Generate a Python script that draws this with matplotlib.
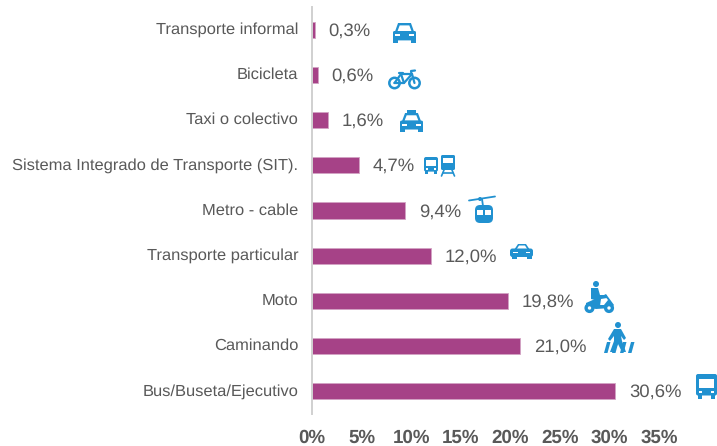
import matplotlib
matplotlib.use("Agg")
import matplotlib.pyplot as plt
from matplotlib.patches import Circle, FancyBboxPatch, Polygon, Rectangle

categories = ["Transporte informal", "Bicicleta", "Taxi o colectivo",
              "Sistema Integrado de Transporte (SIT).", "Metro - cable",
              "Transporte particular", "Moto", "Caminando", "Bus/Buseta/Ejecutivo"]
values = [0.3, 0.6, 1.6, 4.7, 9.4, 12.0, 19.8, 21.0, 30.6]
xticks = [0, 5, 10, 15, 20, 25, 30, 35]

W, H = 717, 446
BLUE = "#2191d0"
GREY = "#595959"
plt.rcParams["font.family"] = ["Liberation Sans", "DejaVu Sans"]
plt.rcParams["text.hinting"] = "none"

fig = plt.figure(figsize=(W / 100, H / 100), dpi=100)
ax = fig.add_axes([312 / W, 1 - 414 / H, 347 / W, 407 / H])
y = list(range(len(categories)))
ax.barh(y, values, height=0.355, color="#a64287", edgecolor="#d3a3c4", linewidth=0.6)
ax.set_xlim(0, 35)
ax.set_ylim(len(categories) - 0.5, -0.5)
ax.set_yticks(y)
ax.set_yticklabels(categories, fontsize=11.85, color=GREY, va="center")
for lab in ax.get_yticklabels():
    lab.set_y(lab.get_position()[1])
ax.set_xticks(xticks)
ax.set_xticklabels([f"{t}%" for t in xticks], fontsize=13.5, fontweight="bold", color=GREY)
ax.tick_params(axis="y", length=0, pad=10)
ax.tick_params(axis="x", length=0, pad=10.5)
for s in ["top", "right", "bottom"]:
    ax.spines[s].set_visible(False)
ax.spines["left"].set_color("#d0d0d0")
ax.spines["left"].set_linewidth(1.4)
for yi, v in zip(y, values):
    ax.annotate(f"{v:.1f}%".replace(".", ","), (v, yi), xytext=(9.8, -0.8),
                textcoords="offset points", va="center", fontsize=13.3, color=GREY)

# overlay in pixel coordinates for the little pictograms
ov = fig.add_axes([0, 0, 1, 1])
ov.set_xlim(0, W)
ov.set_ylim(H, 0)
ov.axis("off")


def box(x0, y0, x1, y1, r=1.5, color=BLUE):
    ov.add_patch(FancyBboxPatch((x0 + r, y0 + r), x1 - x0 - 2 * r, y1 - y0 - 2 * r,
                                boxstyle=f"round,pad={r}", fc=color, ec="none"))


def poly(pts, color=BLUE):
    ov.add_patch(Polygon(pts, closed=True, fc=color, ec="none"))


def wheel(x, yc, r, lw=2, fc="white"):
    ov.add_patch(Circle((x, yc), r, fc=fc, ec=BLUE, lw=lw))


def line(xs, ys, lw=1.6):
    ov.plot(xs, ys, color=BLUE, lw=lw, solid_capstyle="round")


def rect(x, y0, w, h, color=BLUE):
    ov.add_patch(Rectangle((x, y0), w, h, fc=color, ec="none"))


def car_front(x0, y0, x1, y1):
    w, h = x1 - x0, y1 - y0
    poly([(x0 + .08 * w, y0 + .45 * h), (x0 + .22 * w, y0), (x1 - .22 * w, y0), (x1 - .08 * w, y0 + .45 * h)])
    poly([(x0 + .2 * w, y0 + .4 * h), (x0 + .29 * w, y0 + .12 * h), (x1 - .29 * w, y0 + .12 * h), (x1 - .2 * w, y0 + .4 * h)], "white")
    box(x0, y0 + .4 * h, x1, y0 + .87 * h, 1.5)
    rect(x0 + .02 * w, y0 + .8 * h, .19 * w, .2 * h)
    rect(x1 - .21 * w, y0 + .8 * h, .19 * w, .2 * h)
    rect(x0 + .1 * w, y0 + .56 * h, .2 * w, .1 * h, "white")
    rect(x1 - .3 * w, y0 + .56 * h, .2 * w, .1 * h, "white")


def bus(x0, y0, x1, y1):
    w, h = x1 - x0, y1 - y0
    box(x0, y0, x1, y0 + .86 * h, 2)
    rect(x0 + .12 * w, y0 + .2 * h, .76 * w, .34 * h, "white")
    rect(x0 + .08 * w, y0 + .8 * h, .22 * w, .2 * h)
    rect(x1 - .3 * w, y0 + .8 * h, .22 * w, .2 * h)
    rect(x0 + .12 * w, y0 + .66 * h, .18 * w, .08 * h, "white")
    rect(x1 - .3 * w, y0 + .66 * h, .18 * w, .08 * h, "white")


# transporte informal
car_front(393, 23, 416, 43)
# bicicleta
wheel(394.5, 83, 5.2, 1.8)
wheel(414.5, 83, 5.2, 1.8)
line([394.5, 401, 412, 414.5], [83, 74, 74, 83])
line([394.5, 404, 412], [83, 83, 74])
line([401, 404], [74, 83])
line([399, 403], [72.5, 72.5])
line([411.5, 411, 415], [74, 71, 70.5])
# taxi
car_front(400, 113, 423, 132)
rect(407, 110, 9, 3.5)
# SIT: bus + tren
bus(424, 157, 438, 174)
box(441, 155, 455, 170, 1.5)
rect(443, 158, 10, 5, "white")
line([444, 441.5], [170, 176], 1.2)
line([452, 454.5], [170, 176], 1.2)
line([443, 453], [173, 173], 1.2)
# cable
line([469, 495], [200.5, 196.5], 1.3)
ov.add_patch(Circle((480, 199), 2, fc=BLUE))
line([482, 483], [199, 206], 1.3)
box(475, 205, 493, 223, 5)
rect(477, 210, 14, 4.5, "white")
rect(483.4, 210, 1.2, 4.5)
# carro particular
poly([(514, 250), (518, 244), (526, 244), (530, 250)])
poly([(516.5, 249.5), (519, 245.5), (525, 245.5), (527.5, 249.5)], "white")
box(510, 248.5, 533, 257, 2.5)
rect(512, 256, 4.5, 3)
rect(527, 256, 4.5, 3)
rect(513, 251.5, 4.5, 1.8, "white")
rect(525.5, 251.5, 4.5, 1.8, "white")
# moto
ov.add_patch(Circle((596, 284), 3, fc=BLUE))
poly([(591, 288), (598, 288), (600, 295), (607, 295), (607, 298), (601, 299), (600, 306), (596, 306), (595, 300), (591, 299)])
poly([(586, 303), (595, 299), (600, 305), (604, 305), (608, 300), (604, 295), (606, 294), (614, 305), (611, 308), (596, 309), (586, 307)])
wheel(589.5, 308, 3.4, 2.4)
wheel(609, 308, 3.4, 2.4)
# caminando
ov.add_patch(Circle((618, 325), 3, fc=BLUE))
poly([(614, 329), (621, 329), (626, 338), (624, 340), (621, 336), (622, 341), (626, 352), (622, 352), (618, 344), (614, 352), (610, 352), (614, 341), (614, 336), (610, 341), (608, 339)])
for xb in [604, 612, 620, 628]:
    poly([(xb, 353), (xb + 3.5, 353), (xb + 6.5, 342), (xb + 3, 342)])
# bus grande
bus(696, 374, 717, 399)

fig.savefig("out.png", dpi=100)
